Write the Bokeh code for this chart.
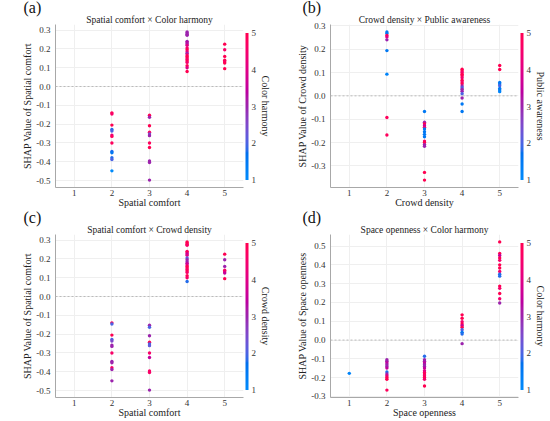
import numpy as np
from bokeh.plotting import figure
from bokeh.models import (ColumnDataSource, LinearColorMapper, ColorBar, FixedTicker,
                          Span, Title, Range1d, PrintfTickFormatter, Spacer)
from bokeh.transform import transform
from bokeh.layouts import column, row
from bokeh.embed import file_html
from bokeh.resources import INLINE

SERIF = "Liberation Serif"

# ---------------- data ----------------
X_TICKS = [1, 2, 3, 4, 5]
CB_TICKS = [1, 2, 3, 4, 5]

# Spatial comfort (panels a and c share the SHAP values)
SC_LEVEL = [2, 2, 2, 2, 2, 2, 2, 2, 2, 2, 2, 2, 2,
            3, 3, 3, 3, 3, 3, 3, 3, 3, 3, 3,
            4, 4, 4, 4, 4, 4, 4, 4, 4, 4, 4, 4, 4, 4, 4, 4, 4, 4, 4, 4, 4,
            5, 5, 5, 5, 5, 5, 5]
SC_SHAP = [-0.140, -0.146, -0.205, -0.228, -0.236, -0.258, -0.265, -0.300, -0.345, -0.352, -0.378, -0.388, -0.448,
           -0.152, -0.163, -0.208, -0.243, -0.252, -0.261, -0.300, -0.324, -0.395, -0.404, -0.497,
           0.290, 0.284, 0.278, 0.272, 0.240, 0.233, 0.226, 0.219, 0.205, 0.195, 0.185, 0.176, 0.168, 0.160,
           0.152, 0.144, 0.136, 0.128, 0.110, 0.100, 0.080,
           0.225, 0.195, 0.160, 0.140, 0.132, 0.125, 0.095]
A_COLOR_HARMONY = [5, 4.6, 5, 1.8, 2, 4.2, 4.8, 4.8, 1.8, 1.5, 1.8, 2, 1,
                   5, 3, 5, 4.8, 2.5, 3, 4.8, 5, 3, 3, 3,
                   3, 3, 3, 3, 3, 3.5, 3, 4, 4.5, 5, 4.2, 3, 4.5, 5, 5, 4.5, 5, 4.5, 5, 4, 5,
                   5, 4.6, 5, 5, 4.6, 5, 5]
C_CROWD_DENSITY = [5, 2, 5, 2, 2.5, 3, 3, 4.6, 3, 3, 4.6, 3, 3,
                   3, 2, 3, 5, 2, 2.2, 4.6, 3.5, 4.6, 4.6, 3,
                   5, 5, 5, 4.6, 4.6, 5, 3.5, 4, 2.2, 3, 3, 3.5, 4, 5, 5, 4.6, 5, 4.6, 5, 4.6, 1.8,
                   5, 3, 3, 4.6, 4.6, 3.5, 5]

# Crowd density (panel b)
CD_LEVEL = [2, 2, 2, 2, 2, 2, 2, 2, 2,
            3, 3, 3, 3, 3, 3, 3, 3, 3, 3, 3, 3, 3, 3, 3,
            4, 4, 4, 4, 4, 4, 4, 4, 4, 4, 4, 4, 4, 4, 4, 4, 4,
            5, 5, 5, 5, 5, 5, 5, 5]
CD_SHAP = [0.274, 0.267, 0.259, 0.252, 0.240, 0.194, 0.093, -0.093, -0.168,
           -0.067, -0.113, -0.120, -0.128, -0.135, -0.142, -0.154, -0.165, -0.175, -0.194, -0.200, -0.209,
           -0.216, -0.328, -0.361,
           0.114, 0.107, 0.100, 0.093, 0.086, 0.078, 0.067, 0.059, 0.052, 0.042, 0.035, 0.028, 0.020, 0.009,
           -0.009, -0.035, -0.067,
           0.130, 0.113, 0.057, 0.051, 0.043, 0.032, 0.025, 0.018]
B_PUBLIC_AWARENESS = [1.5, 1.5, 5, 4, 3, 1.5, 1.2, 4.8, 4.8,
                      1.5, 3, 5, 3.5, 4.5, 1.5, 1.5, 1.5, 1.5, 4.5, 5, 3, 3, 5, 5,
                      5, 5, 4.5, 5, 5, 4.5, 5, 4.5, 5, 3, 2, 3, 3, 2, 3, 1.5, 1.5,
                      5, 5, 1.5, 1.5, 2, 1.5, 1.5, 1.2]

# Space openness (panel d)
SO_LEVEL = [1,
            2, 2, 2, 2, 2, 2, 2, 2, 2, 2, 2, 2,
            3, 3, 3, 3, 3, 3, 3, 3, 3, 3, 3, 3, 3, 3,
            4, 4, 4, 4, 4, 4, 4, 4, 4, 4,
            5, 5, 5, 5, 5, 5, 5, 5, 5, 5, 5, 5, 5, 5, 5]
SO_SHAP = [-0.177,
           -0.104, -0.113, -0.122, -0.131, -0.140, -0.149, -0.170, -0.180, -0.190, -0.199, -0.208, -0.266,
           -0.086, -0.104, -0.113, -0.122, -0.131, -0.140, -0.149, -0.163, -0.172, -0.181, -0.190, -0.199,
           -0.208, -0.244,
           0.134, 0.116, 0.098, 0.086, 0.077, 0.068, 0.055, 0.041, 0.032, -0.019,
           0.522, 0.461, 0.450, 0.437, 0.424, 0.400, 0.383, 0.365, 0.350, 0.340, 0.287, 0.275, 0.248, 0.220, 0.197]
D_COLOR_HARMONY = [1.2,
                   3, 3, 3.5, 3, 3, 3.5, 1.8, 3, 4, 5, 5, 4.8,
                   1.8, 3, 3, 3.5, 3, 3, 3.5, 4, 4.5, 5, 4.5, 5, 4.5, 5,
                   5, 5, 4.5, 5, 3.5, 5, 2, 1.5, 1.8, 3,
                   5, 5, 3.5, 5, 4.5, 5, 5, 4.5, 1.8, 1.8, 5, 4.5, 5, 4.5, 3]

A_YTICKS = [-0.5, -0.4, -0.3, -0.2, -0.1, 0.0, 0.1, 0.2, 0.3]
B_YTICKS = [-0.3, -0.2, -0.1, 0.0, 0.1, 0.2, 0.3]
D_YTICKS = [-0.3, -0.2, -0.1, 0.0, 0.1, 0.2, 0.3, 0.4, 0.5]


# ---------------- SHAP red_blue colormap (LCH interpolation) ----------------
def lch2hex(l, c, h):
    a = c * np.cos(h)
    b = c * np.sin(h)
    fy = (l + 16.0) / 116.0
    fx = fy + a / 500.0
    fz = fy - b / 200.0

    def finv(t):
        return t ** 3 if t > 6 / 29 else 3 * (6 / 29) ** 2 * (t - 4 / 29)

    X = 0.95047 * finv(fx)
    Y = 1.0 * finv(fy)
    Z = 1.08883 * finv(fz)
    r = 3.2406 * X - 1.5372 * Y - 0.4986 * Z
    g = -0.9689 * X + 1.8758 * Y + 0.0415 * Z
    bb = 0.0557 * X - 0.2040 * Y + 1.0570 * Z

    def gam(u):
        u = max(u, 0.0)
        v = 1.055 * u ** (1 / 2.4) - 0.055 if u > 0.0031308 else 12.92 * u
        return int(round(min(max(v, 0.0), 1.0) * 255))

    return "#%02x%02x%02x" % (gam(r), gam(g), gam(bb))


def shap_red_blue(n=256):
    blue_lch = [54.0, 70.0, 4.6588]
    red_lch = [54.0, 90.0, 0.35470565 + 2 * np.pi]
    l_mid = 40.0
    half = n // 2
    ls = list(np.linspace(blue_lch[0], l_mid, half)) + list(np.linspace(l_mid, red_lch[0], n - half))
    cs = np.linspace(blue_lch[1], red_lch[1], n)
    hs = np.linspace(blue_lch[2], red_lch[2], n)
    return [lch2hex(l, c, h) for l, c, h in zip(ls, cs, hs)]


PALETTE = shap_red_blue()

LEFT_GAP, RIGHT_GAP = 19, 5
W, H = 275 - LEFT_GAP - RIGHT_GAP, 210


def make_panel(tag, tag_dx, title, xlabel, ylabel, cblabel, xs, ys, cs, yticks):
    ymin, ymax = min(ys), max(ys)
    pad = 0.05 * (ymax - ymin)
    p = figure(width=W, height=H, output_backend="svg", toolbar_location=None,
               x_range=Range1d(0.5, 5.5), y_range=Range1d(ymin - pad, ymax + pad),
               min_border_left=0, min_border_right=0, min_border_top=0, min_border_bottom=0)
    p.outline_line_color = None
    p.background_fill_color = "white"
    p.border_fill_color = "white"

    # axes
    p.xaxis.ticker = FixedTicker(ticks=X_TICKS)
    p.yaxis.ticker = FixedTicker(ticks=yticks)
    p.yaxis.formatter = PrintfTickFormatter(format="%.1f")
    p.xaxis.axis_label = xlabel
    p.yaxis.axis_label = ylabel
    for ax in (p.xaxis[0], p.yaxis[0]):
        ax.axis_line_color = "#a8a8a8"
        ax.major_tick_line_color = None
        ax.minor_tick_line_color = None
        ax.major_tick_out = 0
        ax.major_tick_in = 0
        ax.minor_tick_out = 0
        ax.minor_tick_in = 0
        ax.major_label_text_font = SERIF
        ax.major_label_text_font_size = "9px"
        ax.major_label_text_color = "#333333"
        ax.axis_label_text_font = SERIF
        ax.axis_label_text_font_size = "10px"
        ax.axis_label_text_font_style = "normal"
        ax.axis_label_text_color = "#222222"
    p.xaxis.major_label_standoff = 2
    p.xaxis.axis_label_standoff = -2
    p.yaxis.major_label_standoff = 5
    p.yaxis.axis_label_standoff = 0

    p.grid.grid_line_color = "#efefef"

    p.add_layout(Span(location=0, dimension="width", line_color="#bbbbbb",
                      line_dash="2 2", line_width=1))

    mapper = LinearColorMapper(palette=PALETTE, low=1, high=5)
    src = ColumnDataSource(dict(x=xs, y=ys, c=cs))
    p.scatter(x="x", y="y", source=src, marker="circle", size=3.4,
              fill_color=transform("c", mapper), line_color=None)

    # titles: main title next to the frame, panel tag further out
    p.add_layout(Title(text=title, align="center", standoff=0, text_font=SERIF,
                       text_font_size="9.5px", text_font_style="normal",
                       text_color="#222222"), "above")
    p.add_layout(Title(text=tag, align="left", offset=tag_dx, standoff=-7,
                       text_font=SERIF, text_font_size="16px", text_font_style="normal",
                       text_color="#111111"), "above")

    cb = ColorBar(color_mapper=mapper, orientation="vertical", location="center_left",
                  width=3, height=147, margin=0, padding=2,
                  ticker=FixedTicker(ticks=CB_TICKS),
                  major_tick_line_color=None, minor_tick_line_color=None,
                  bar_line_color=None, border_line_color=None,
                  background_fill_alpha=0, label_standoff=3,
                  major_label_text_font=SERIF, major_label_text_font_size="9px",
                  major_label_text_color="#333333")
    p.add_layout(cb, "right")
    p.add_layout(Title(text=cblabel, align="center", standoff=-4, text_font=SERIF,
                       text_font_size="10px", text_font_style="normal",
                       text_color="#222222"), "right")
    return p


pa = make_panel("(a)", -32, "Spatial comfort \u00d7 Color harmony", "Spatial comfort",
                "SHAP Value of Spatial comfort", "Color harmony",
                SC_LEVEL, SC_SHAP, A_COLOR_HARMONY, A_YTICKS)
pb = make_panel("(b)", -28, "Crowd density \u00d7 Public awareness", "Crowd density",
                "SHAP Value of Crowd density", "Public awareness",
                CD_LEVEL, CD_SHAP, B_PUBLIC_AWARENESS, B_YTICKS)
pc = make_panel("(c)", -32, "Spatial comfort \u00d7 Crowd density", "Spatial comfort",
                "SHAP Value of Spatial comfort", "Crowd density",
                SC_LEVEL, SC_SHAP, C_CROWD_DENSITY, A_YTICKS)
pd = make_panel("(d)", -28, "Space openness \u00d7 Color harmony", "Space openness",
                "SHAP Value of Space openness", "Color harmony",
                SO_LEVEL, SO_SHAP, D_COLOR_HARMONY, D_YTICKS)


def gap(w):
    return Spacer(width=w, height=H)


layout = column(row(gap(LEFT_GAP), pa, gap(RIGHT_GAP + LEFT_GAP), pb, gap(RIGHT_GAP)),
                row(gap(LEFT_GAP), pc, gap(RIGHT_GAP + LEFT_GAP), pd, gap(RIGHT_GAP)))
open("out.html", "w").write(file_html(layout, INLINE, title="SHAP dependence plots"))
